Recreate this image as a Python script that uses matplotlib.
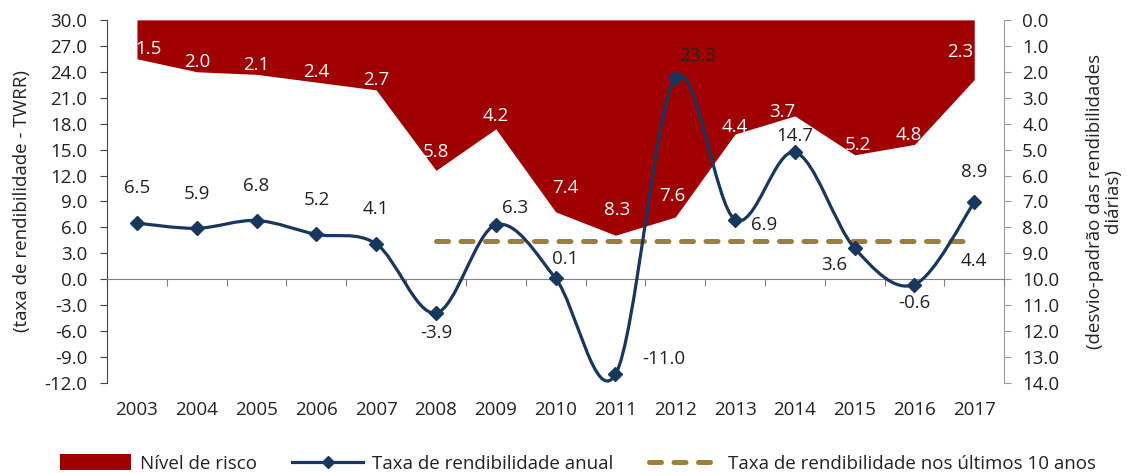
import matplotlib.pyplot as plt
from matplotlib.path import Path
from matplotlib.patches import PathPatch, Patch
from matplotlib.lines import Line2D
import numpy as np

plt.rcParams['font.family'] = ['Open Sans', 'DejaVu Sans']
plt.rcParams['font.size'] = 13.5

# data
years = ['2003', '2004', '2005', '2006', '2007', '2008', '2009', '2010',
         '2011', '2012', '2013', '2014', '2015', '2016', '2017']
taxa_anual = [6.5, 5.9, 6.8, 5.2, 4.1, -3.9, 6.3, 0.1, -11.0, 23.3, 6.9, 14.7, 3.6, -0.6, 8.9]
risco = [1.5, 2.0, 2.1, 2.4, 2.7, 5.8, 4.2, 7.4, 8.3, 7.6, 4.4, 3.7, 5.2, 4.8, 2.3]
taxa_10anos = 4.4
anos_10 = years[5:]

red = '#a00000'
navy = '#17375e'
gold = '#9c7f3c'
txt = '#222222'

# label offsets in points (dx, dy)
off_anual = [(0, 25), (0, 25), (0, 25), (0, 25), (0, 25), (0, -14), (14, 12), (7, 14),
             (35, 11), (16, 16), (21, -4), (0, 12), (-15, -12), (0, -13), (0, 22)]
off_risco = [(8, 7), (0, 7), (0, 7), (0, 7), (0, 7), (0, 13), (0, 9), (7, 17),
             (1, 18), (-2, 15), (0, 5), (-9, 3), (2, 7), (-4, 7), (-10, 20)]

fig = plt.figure(figsize=(11.27, 4.73), dpi=100)
ax = fig.add_axes([0.095, 0.19, 0.796, 0.768])
ax2 = ax.twinx()

x = np.arange(len(years))

# risk area hanging from the top of the inverted right axis
ax2.fill_between(x, 0, risco, color=red, linewidth=0)
ax2.set_ylim(14, 0)
ax2.set_yticks(np.arange(0, 15, 1))
ax2.set_yticklabels([f'{v:.1f}' for v in np.arange(0, 15, 1)])
for xi, v, (dx, dy) in zip(x, risco, off_risco):
    ax2.annotate(f'{v:.1f}', (xi, v), xytext=(dx, dy), textcoords='offset points',
                 ha='center', va='center', color='white')

ax.set_zorder(ax2.get_zorder() + 1)
ax.patch.set_visible(False)

# smoothed line through the annual returns (cubic Bezier segments)
pts = np.column_stack([x, taxa_anual]).astype(float)
ext = np.vstack([pts[0], pts, pts[-1]])
verts = [pts[0]]
codes = [Path.MOVETO]
for i in range(len(pts) - 1):
    p0, p1, p2, p3 = ext[i], ext[i + 1], ext[i + 2], ext[i + 3]
    verts += [p1 + (p2 - p0) / 6, p2 - (p3 - p1) / 6, p2]
    codes += [Path.CURVE4] * 3
ax.add_patch(PathPatch(Path(verts, codes), facecolor='none', edgecolor=navy,
                       linewidth=2.3, zorder=3))
ax.plot(x, taxa_anual, linestyle='none', marker='D', ms=7, color=navy, zorder=4)

x10 = x[len(years) - len(anos_10):]
ax.plot(x10, [taxa_10anos] * len(x10), color=gold, linewidth=3.6,
        dashes=(2.4, 2.5), dash_capstyle='round', zorder=2)
ax.annotate(f'{taxa_10anos:.1f}', (x10[-1], taxa_10anos), xytext=(0, -14),
            textcoords='offset points', ha='center', va='center', color=txt)

for xi, v, (dx, dy) in zip(x, taxa_anual, off_anual):
    ax.annotate(f'{v:.1f}', (xi, v), xytext=(dx, dy), textcoords='offset points',
                ha='center', va='center', color=txt)

ax.set_xlim(-0.5, len(years) - 0.5)
ax.set_ylim(-12, 30)
ax.set_yticks(np.arange(-12, 31, 3))
ax.set_yticklabels([f'{v:.1f}' for v in np.arange(-12, 31, 3)])

# category axis crosses at zero, ticks between categories
ax.spines['bottom'].set_position(('data', 0))
ax.spines['bottom'].set_color('#808080')
ax.set_xticks(np.arange(-0.5, len(years), 1))
ax.set_xticklabels([])
ax.tick_params(axis='x', direction='out', length=5, color='#808080')

sec = ax.secondary_xaxis('bottom')
sec.spines['bottom'].set_visible(False)
sec.set_xticks(x)
sec.set_xticklabels(years)
sec.tick_params(length=0, pad=13, colors=txt)

for a in (ax, ax2):
    a.spines['top'].set_visible(False)
ax.spines['right'].set_visible(False)
ax2.spines['left'].set_visible(False)
ax2.spines['bottom'].set_visible(False)
ax.spines['left'].set_color('#444444')
ax2.spines['right'].set_color('#999999')
ax.tick_params(axis='y', direction='out', length=5, color='#444444', labelcolor=txt, pad=9)
ax2.tick_params(axis='y', direction='out', length=5, color='#999999', labelcolor=txt, pad=8)

ax.set_ylabel('(taxa de rendibilidade - TWRR)', color=txt, labelpad=10)
ax2.set_ylabel('(desvio-padrão das rendibilidades\ndiárias)', color=txt,
               rotation=90, labelpad=19, linespacing=1.0)

handles = [Patch(facecolor=red, edgecolor='none'),
           Line2D([], [], color=navy, linewidth=2.3, marker='D', ms=6),
           Line2D([], [], color=gold, linewidth=3.6, dashes=(2.4, 2.5), dash_capstyle='round')]
labels = ['Nível de risco', 'Taxa de rendibilidade anual',
          'Taxa de rendibilidade nos últimos 10 anos']
fig.legend(handles, labels, loc='lower center', bbox_to_anchor=(0.513, -0.035), ncol=3,
           frameon=False, handlelength=3.8, handleheight=0.9, columnspacing=1.9,
           handletextpad=0.45, labelcolor=txt)

fig.savefig('out.png', dpi=100)
